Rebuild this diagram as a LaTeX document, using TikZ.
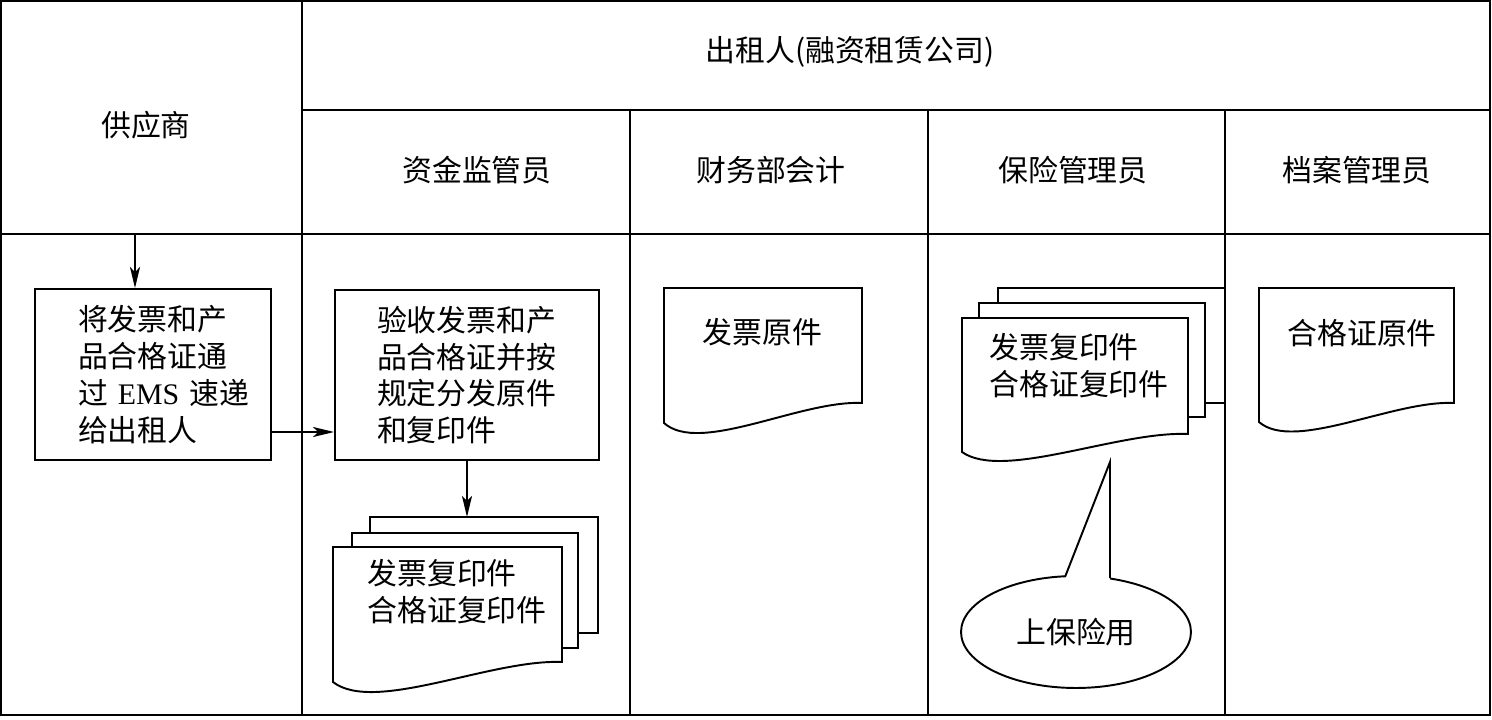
\documentclass[tikz,border=0pt]{standalone}
\usepackage{fontspec}
\usepackage{tikz}
\usetikzlibrary{arrows.meta,shapes.geometric}
\newfontfamily\cjk{Noto Sans CJK SC}
\newfontfamily\latn{Liberation Serif}
\newcommand{\ems}{{\latn EMS}}
% sheet with a wavy lower edge: left, top, right, right bottom, left bottom
\newcommand{\docsheet}[5]{%
  \draw[fill=white] (#1,#2) -- (#3,#2) -- (#3,#4)
    .. controls ({#1+0.69*(#3-#1)},{#4-3}) and ({#1+0.18*(#3-#1)},{#5+1.6*(#5-#4)}) .. (#1,#5) -- cycle;}

\begin{document}
\begin{tikzpicture}[x=0.02cm, y=-0.02cm, line width=1.1pt,
  every node/.style={font=\cjk\fontsize{17}{21}\selectfont, inner sep=2pt},
  box/.style={draw, fill=white, align=left},
  flow/.style={-{Stealth[length=0.42cm, width=0.2cm, inset=0.1cm]}}]
\useasboundingbox (0,0) rectangle (1492,720);
% --- lanes ---
\draw[line width=1.6pt] (1,1) rectangle (1490,715);
\draw (302,1) -- (302,715);
\draw (302,110) -- (1490,110);
\draw (1,234) -- (1490,234);
\draw (630,110) -- (630,715);
\draw (928,110) -- (928,715);
\draw (1225,110) -- (1225,715);
% --- headings ---
\node (supplier) at (146,125) {供应商};
\node (lessor)   at (850,52)  {出租人(融资租赁公司)};
\node (fundmgr)  at (477,170) {资金监管员};
\node (finacct)  at (771,170) {财务部会计};
\node (insmgr)   at (1073,170) {保险管理员};
\node (archmgr)  at (1357,170) {档案管理员};
% --- supplier ---
\node[box, minimum width=4.72cm, minimum height=3.42cm, text width=3.0cm] (ship) at (153,374.5)
  {将发票和产\\品合格证通\\\mbox{过 \ems{} 速递}\\给出租人};
\coordinate (inflow) at (135,234);
\draw[flow] (inflow) -- (inflow |- ship.north);
% --- fund supervisor ---
\node[box, minimum width=5.28cm, minimum height=3.4cm, text width=3.6cm] (check) at (467,375)
  {验收发票和产\\品合格证并按\\规定分发原件\\和复印件};
\coordinate (handover) at (271,432);
\draw[flow] (handover) -- (handover -| check.west);
\draw[fill=white] (370,517) rectangle (598,633);
\draw[fill=white] (352,533) rectangle (578,648);
\docsheet{333}{547}{562}{662}{682}
\node[anchor=west, align=left] (copiesA) at (363,592) {发票复印件\\合格证复印件};
\coordinate (stackA) at (467,517);
\draw[flow] (check) -- (stackA);
% --- accountant ---
\docsheet{664}{288}{862}{403}{423}
\node[anchor=west] (invorig) at (698,332) {发票原件};
% --- insurance ---
\draw[fill=white] (998,288) rectangle (1225,403);
\draw[fill=white] (979,303) rectangle (1205,417);
\docsheet{962}{318}{1188}{434}{452}
\node[anchor=west, align=left] (copiesB) at (985,366) {发票复印件\\合格证复印件};
\node[draw, ellipse, minimum width=4.6cm, minimum height=2.24cm] (insuse) at (1076,632) {上保险用};
\fill[white] (1065,577) -- (1110,462) -- (1110,578) -- (1110,592) -- (1065,592) -- cycle;
\draw (1065,577) -- (1110,462) -- (1110,578);
% --- archive ---
\docsheet{1259}{288}{1454}{403}{422}
\node[anchor=west] (certorig) at (1283,333) {合格证原件};
\end{tikzpicture}
\end{document}
